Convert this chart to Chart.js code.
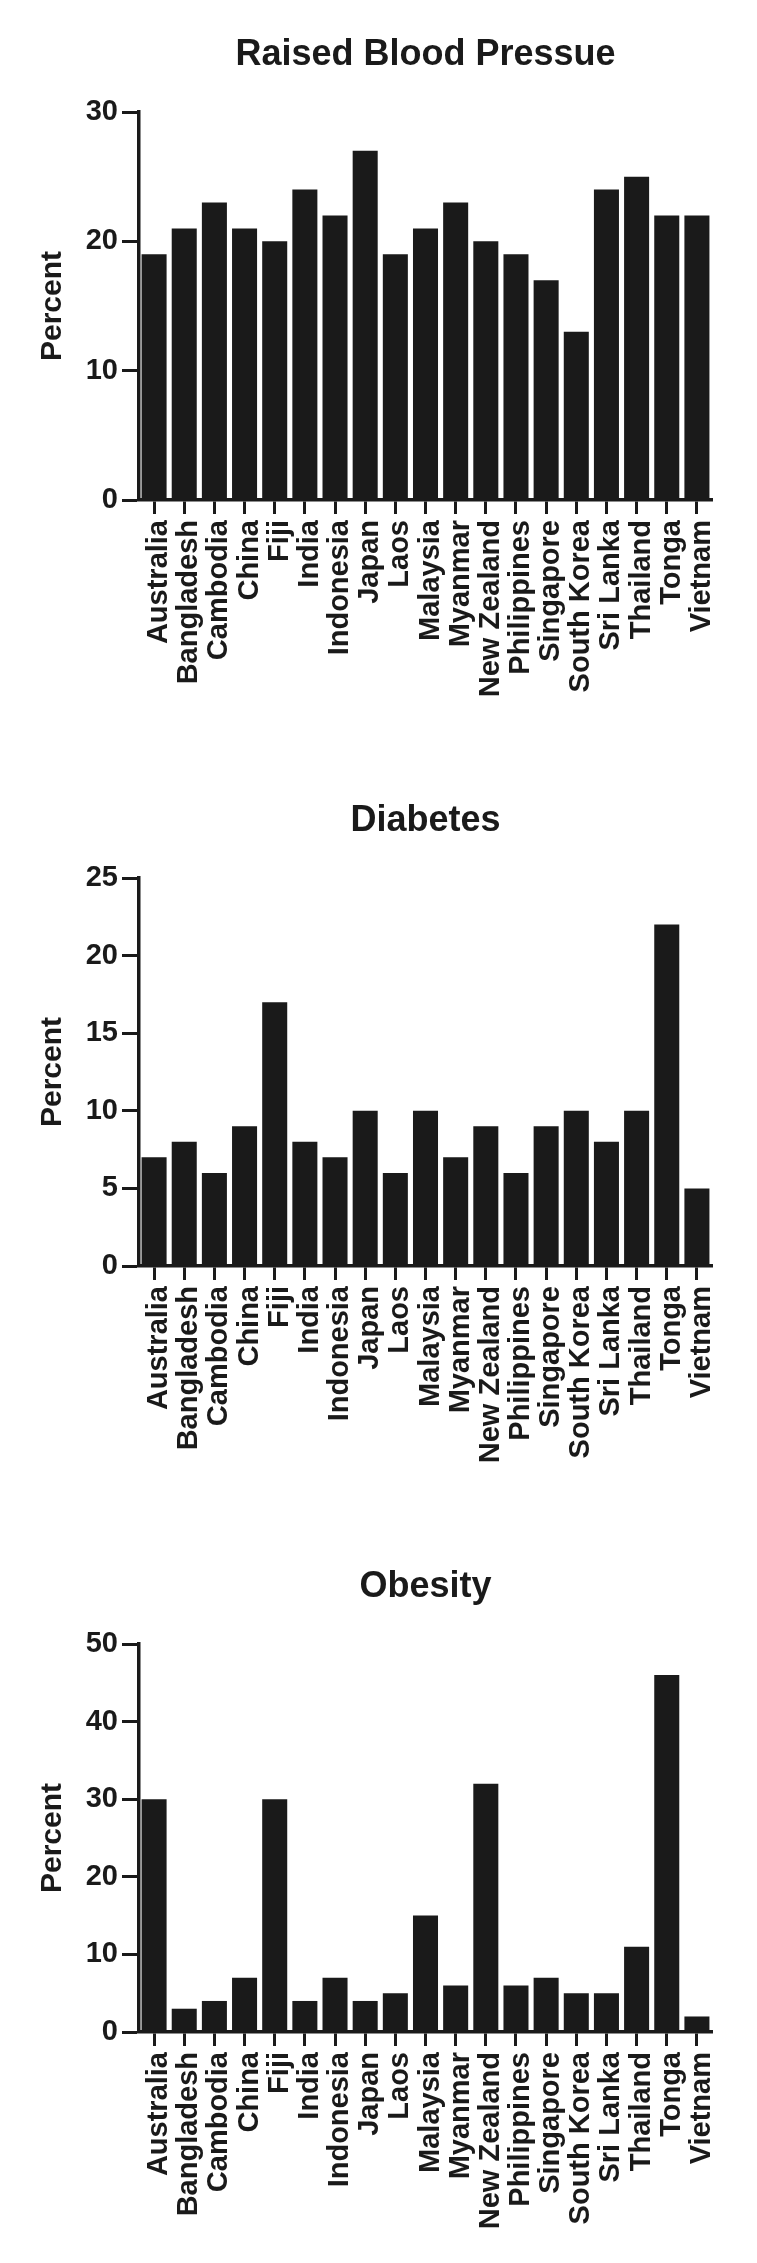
<!DOCTYPE html>
<html>
<head>
<meta charset="utf-8">
<script src="https://cdn.jsdelivr.net/npm/chart.js@4.4.1/dist/chart.umd.min.js"></script>
<style>
  html, body { margin: 0; padding: 0; background: #fff; }
  canvas { display: block; }
</style>
</head>
<body>
<canvas id="bpChart" width="757" height="766"></canvas>
<canvas id="diabetesChart" width="757" height="766"></canvas>
<canvas id="obesityChart" width="757" height="731"></canvas>
<script>
// Danh sách quốc gia (trục x)
const countries = ['Australia', 'Bangladesh', 'Cambodia', 'China', 'Fiji', 'India', 'Indonesia',
  'Japan', 'Laos', 'Malaysia', 'Myanmar', 'New Zealand', 'Philippines', 'Singapore',
  'South Korea', 'Sri Lanka', 'Thailand', 'Tonga', 'Vietnam'];

// Giá trị phần trăm của từng biểu đồ
const bloodPressure = [19, 21, 23, 21, 20, 24, 22, 27, 19, 21, 23, 20, 19, 17, 13, 24, 25, 22, 22];
const diabetes = [7, 8, 6, 9, 17, 8, 7, 10, 6, 10, 7, 9, 6, 9, 10, 8, 10, 22, 5];
const obesity = [30, 3, 4, 7, 30, 4, 7, 4, 5, 15, 6, 32, 6, 7, 5, 5, 11, 46, 2];

// Các mốc trên trục y
const bpTicks = [0, 10, 20, 30];
const diabetesTicks = [0, 5, 10, 15, 20, 25];
const obesityTicks = [0, 10, 20, 30, 40, 50];

const ink = '#1a1a1a';
const fontFamily = "'Liberation Sans', Arial, Helvetica, sans-serif";

// Vẽ một biểu đồ cột
function makeChart(id, titleText, values, tickValues) {
    const canvas = document.getElementById(id);
    const h = canvas.height;

    return new Chart(canvas.getContext('2d'), {
        type: 'bar',
        data: {
            labels: countries,
            datasets: [{
                data: values,
                backgroundColor: ink,
                borderWidth: 0,
                barPercentage: 0.83,
                categoryPercentage: 1.0
            }]
        },
        options: {
            responsive: false,
            animation: false,
            layout: { padding: { left: 0, right: 45, top: 0, bottom: 0 } },
            plugins: {
                legend: { display: false },
                tooltip: { enabled: false },
                title: {
                    display: true,
                    text: titleText,
                    fullSize: false,
                    color: ink,
                    font: { family: fontFamily, size: 36, weight: 'bold', lineHeight: 1.2 },
                    padding: { top: 33, bottom: 35.8 }
                }
            },
            scales: {
                x: {
                    offset: true,
                    grid: {
                        offset: false,
                        drawOnChartArea: false,
                        drawTicks: true,
                        tickLength: 14,
                        tickWidth: 3,
                        tickColor: ink
                    },
                    border: { display: true, color: ink, width: 3.5 },
                    ticks: {
                        autoSkip: false,
                        minRotation: 90,
                        maxRotation: 90,
                        padding: 6,
                        labelOffset: 5,
                        color: ink,
                        font: { family: fontFamily, size: 29, weight: 'bold' }
                    },
                    afterFit: scale => { scale.height = h - 500; }
                },
                y: {
                    min: tickValues[0],
                    max: tickValues[tickValues.length - 1],
                    afterBuildTicks: axis => {
                        axis.ticks = tickValues.map(v => ({ value: v }));
                    },
                    grid: {
                        drawOnChartArea: false,
                        drawTicks: true,
                        tickLength: 17,
                        tickWidth: 3,
                        tickColor: ink
                    },
                    border: { display: true, color: ink, width: 3.5 },
                    ticks: {
                        padding: 4,
                        color: ink,
                        font: { family: fontFamily, size: 29, weight: 'bold' }
                    },
                    title: {
                        display: true,
                        text: 'Percent',
                        color: ink,
                        font: { family: fontFamily, size: 30, weight: 'bold', lineHeight: 1.2 },
                        padding: { top: 35, bottom: 0 }
                    },
                    afterFit: scale => { scale.width = 139; }
                }
            }
        }
    });
}

makeChart('bpChart', 'Raised Blood Pressue', bloodPressure, bpTicks);
makeChart('diabetesChart', 'Diabetes', diabetes, diabetesTicks);
makeChart('obesityChart', 'Obesity', obesity, obesityTicks);
</script>
</body>
</html>
